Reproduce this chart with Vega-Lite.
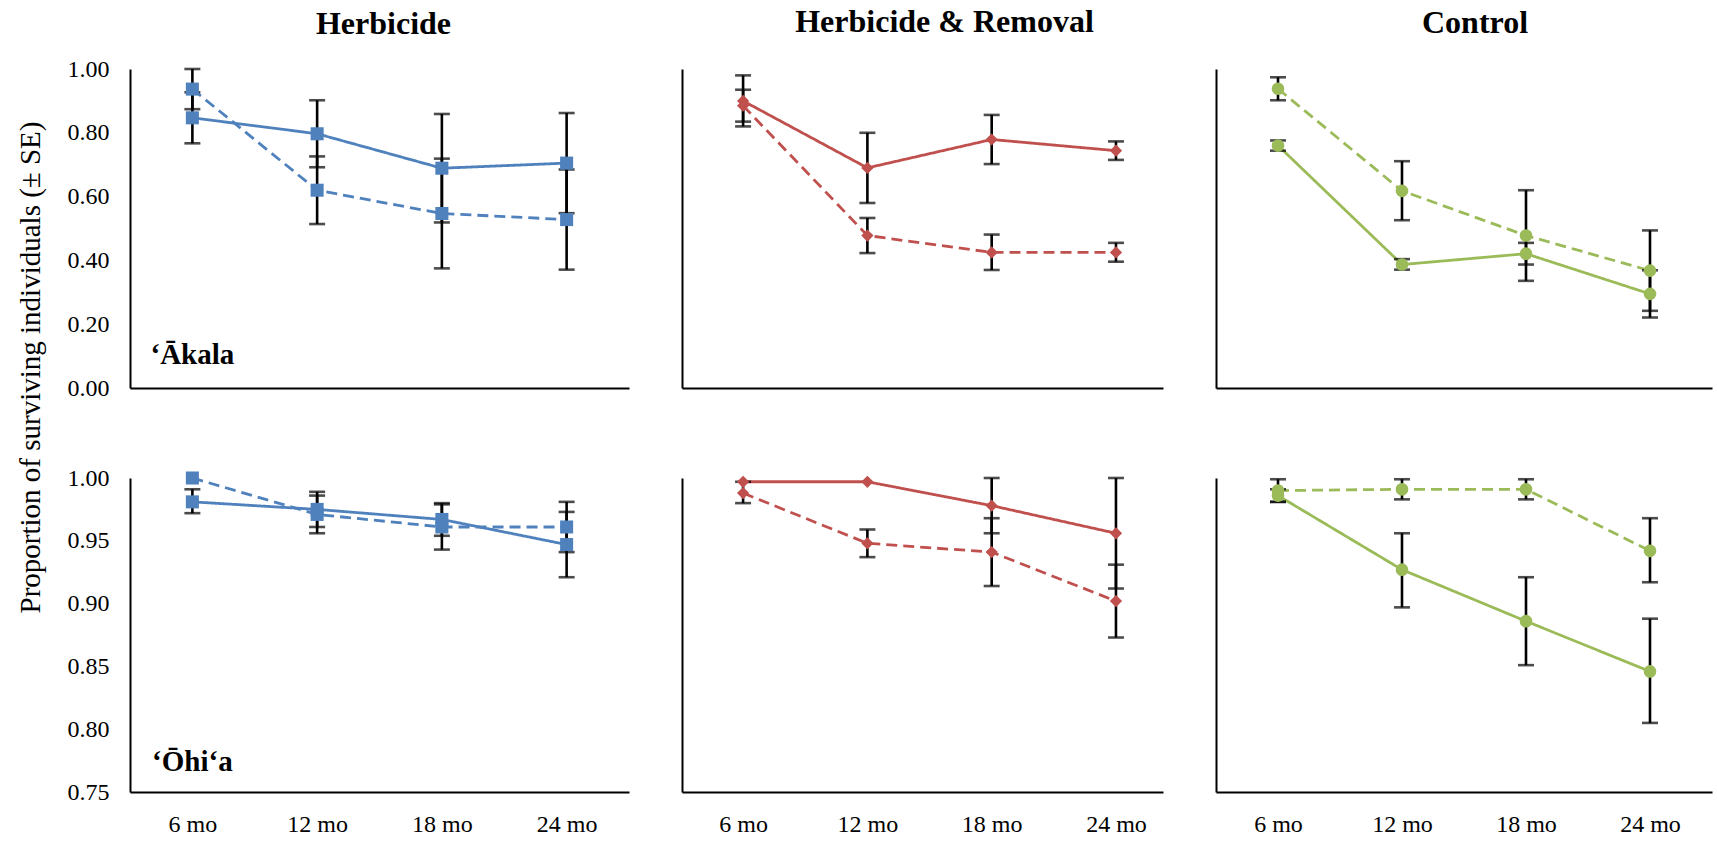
{
  "$schema": "https://vega.github.io/schema/vega-lite/v6.json",
  "background": "white",
  "autosize": {"type": "pad"},
  "padding": {"left": 16, "top": 6, "right": 4, "bottom": 0},
  "config": {
    "font": "Liberation Serif",
    "view": {"stroke": null},
    "axis": {"grid": false, "ticks": false, "domainColor": "black", "domainWidth": 2, "labelFont": "Liberation Serif", "labelFontSize": 24, "labelColor": "black", "labelPadding": 21},
    "axisX": {"labelPadding": 20},
    "title": {"font": "Liberation Serif", "fontSize": 32, "fontWeight": "bold", "color": "black", "anchor": "middle"},
    "line": {"strokeWidth": 2.8},
    "point": {"filled": true, "opacity": 1}
  },
  "data": {"values": [
    {"species": "‘Ākala", "treatment": "Herbicide", "series": "1", "time": "6 mo", "mean": 0.847, "lo": 0.767, "hi": 0.927},
    {"species": "‘Ākala", "treatment": "Herbicide", "series": "1", "time": "12 mo", "mean": 0.797, "lo": 0.692, "hi": 0.902},
    {"species": "‘Ākala", "treatment": "Herbicide", "series": "1", "time": "18 mo", "mean": 0.689, "lo": 0.519, "hi": 0.859},
    {"species": "‘Ākala", "treatment": "Herbicide", "series": "1", "time": "24 mo", "mean": 0.705, "lo": 0.548, "hi": 0.862},
    {"species": "‘Ākala", "treatment": "Herbicide", "series": "2", "time": "6 mo", "mean": 0.937, "lo": 0.874, "hi": 1.0},
    {"species": "‘Ākala", "treatment": "Herbicide", "series": "2", "time": "12 mo", "mean": 0.62, "lo": 0.514, "hi": 0.726},
    {"species": "‘Ākala", "treatment": "Herbicide", "series": "2", "time": "18 mo", "mean": 0.547, "lo": 0.375, "hi": 0.719},
    {"species": "‘Ākala", "treatment": "Herbicide", "series": "2", "time": "24 mo", "mean": 0.528, "lo": 0.371, "hi": 0.685},
    {"species": "‘Ākala", "treatment": "Herbicide & Removal", "series": "1", "time": "6 mo", "mean": 0.9, "lo": 0.82, "hi": 0.98},
    {"species": "‘Ākala", "treatment": "Herbicide & Removal", "series": "1", "time": "12 mo", "mean": 0.69, "lo": 0.58, "hi": 0.8},
    {"species": "‘Ākala", "treatment": "Herbicide & Removal", "series": "1", "time": "18 mo", "mean": 0.779, "lo": 0.702, "hi": 0.856},
    {"species": "‘Ākala", "treatment": "Herbicide & Removal", "series": "1", "time": "24 mo", "mean": 0.744, "lo": 0.715, "hi": 0.773},
    {"species": "‘Ākala", "treatment": "Herbicide & Removal", "series": "2", "time": "6 mo", "mean": 0.885, "lo": 0.835, "hi": 0.935},
    {"species": "‘Ākala", "treatment": "Herbicide & Removal", "series": "2", "time": "12 mo", "mean": 0.478, "lo": 0.423, "hi": 0.533},
    {"species": "‘Ākala", "treatment": "Herbicide & Removal", "series": "2", "time": "18 mo", "mean": 0.425, "lo": 0.37, "hi": 0.481},
    {"species": "‘Ākala", "treatment": "Herbicide & Removal", "series": "2", "time": "24 mo", "mean": 0.425, "lo": 0.396, "hi": 0.455},
    {"species": "‘Ākala", "treatment": "Control", "series": "1", "time": "6 mo", "mean": 0.76, "lo": 0.744, "hi": 0.776},
    {"species": "‘Ākala", "treatment": "Control", "series": "1", "time": "12 mo", "mean": 0.387, "lo": 0.371, "hi": 0.404},
    {"species": "‘Ākala", "treatment": "Control", "series": "1", "time": "18 mo", "mean": 0.421, "lo": 0.387, "hi": 0.455},
    {"species": "‘Ākala", "treatment": "Control", "series": "1", "time": "24 mo", "mean": 0.295, "lo": 0.221, "hi": 0.369},
    {"species": "‘Ākala", "treatment": "Control", "series": "2", "time": "6 mo", "mean": 0.938, "lo": 0.902, "hi": 0.974},
    {"species": "‘Ākala", "treatment": "Control", "series": "2", "time": "12 mo", "mean": 0.618, "lo": 0.526, "hi": 0.711},
    {"species": "‘Ākala", "treatment": "Control", "series": "2", "time": "18 mo", "mean": 0.478, "lo": 0.336, "hi": 0.62},
    {"species": "‘Ākala", "treatment": "Control", "series": "2", "time": "24 mo", "mean": 0.368, "lo": 0.242, "hi": 0.494},
    {"species": "‘Ōhi‘a", "treatment": "Herbicide", "series": "1", "time": "6 mo", "mean": 0.981, "lo": 0.972, "hi": 0.991},
    {"species": "‘Ōhi‘a", "treatment": "Herbicide", "series": "1", "time": "12 mo", "mean": 0.975, "lo": 0.961, "hi": 0.989},
    {"species": "‘Ōhi‘a", "treatment": "Herbicide", "series": "1", "time": "18 mo", "mean": 0.967, "lo": 0.954, "hi": 0.98},
    {"species": "‘Ōhi‘a", "treatment": "Herbicide", "series": "1", "time": "24 mo", "mean": 0.947, "lo": 0.921, "hi": 0.973},
    {"species": "‘Ōhi‘a", "treatment": "Herbicide", "series": "2", "time": "6 mo", "mean": 1.0},
    {"species": "‘Ōhi‘a", "treatment": "Herbicide", "series": "2", "time": "12 mo", "mean": 0.971, "lo": 0.956, "hi": 0.986},
    {"species": "‘Ōhi‘a", "treatment": "Herbicide", "series": "2", "time": "18 mo", "mean": 0.961, "lo": 0.943, "hi": 0.979},
    {"species": "‘Ōhi‘a", "treatment": "Herbicide", "series": "2", "time": "24 mo", "mean": 0.961, "lo": 0.941, "hi": 0.981},
    {"species": "‘Ōhi‘a", "treatment": "Herbicide & Removal", "series": "1", "time": "6 mo", "mean": 0.997},
    {"species": "‘Ōhi‘a", "treatment": "Herbicide & Removal", "series": "1", "time": "12 mo", "mean": 0.997},
    {"species": "‘Ōhi‘a", "treatment": "Herbicide & Removal", "series": "1", "time": "18 mo", "mean": 0.978, "lo": 0.956, "hi": 1.0},
    {"species": "‘Ōhi‘a", "treatment": "Herbicide & Removal", "series": "1", "time": "24 mo", "mean": 0.956, "lo": 0.912, "hi": 1.0},
    {"species": "‘Ōhi‘a", "treatment": "Herbicide & Removal", "series": "2", "time": "6 mo", "mean": 0.988, "lo": 0.98, "hi": 0.997},
    {"species": "‘Ōhi‘a", "treatment": "Herbicide & Removal", "series": "2", "time": "12 mo", "mean": 0.948, "lo": 0.937, "hi": 0.959},
    {"species": "‘Ōhi‘a", "treatment": "Herbicide & Removal", "series": "2", "time": "18 mo", "mean": 0.941, "lo": 0.914, "hi": 0.968},
    {"species": "‘Ōhi‘a", "treatment": "Herbicide & Removal", "series": "2", "time": "24 mo", "mean": 0.902, "lo": 0.873, "hi": 0.931},
    {"species": "‘Ōhi‘a", "treatment": "Control", "series": "1", "time": "6 mo", "mean": 0.986, "lo": 0.981, "hi": 0.991},
    {"species": "‘Ōhi‘a", "treatment": "Control", "series": "1", "time": "12 mo", "mean": 0.927, "lo": 0.897, "hi": 0.956},
    {"species": "‘Ōhi‘a", "treatment": "Control", "series": "1", "time": "18 mo", "mean": 0.886, "lo": 0.851, "hi": 0.921},
    {"species": "‘Ōhi‘a", "treatment": "Control", "series": "1", "time": "24 mo", "mean": 0.846, "lo": 0.805, "hi": 0.888},
    {"species": "‘Ōhi‘a", "treatment": "Control", "series": "2", "time": "6 mo", "mean": 0.99, "lo": 0.981, "hi": 0.999},
    {"species": "‘Ōhi‘a", "treatment": "Control", "series": "2", "time": "12 mo", "mean": 0.991, "lo": 0.983, "hi": 0.999},
    {"species": "‘Ōhi‘a", "treatment": "Control", "series": "2", "time": "18 mo", "mean": 0.991, "lo": 0.983, "hi": 0.999},
    {"species": "‘Ōhi‘a", "treatment": "Control", "series": "2", "time": "24 mo", "mean": 0.942, "lo": 0.917, "hi": 0.968}
  ]},
  "columns": 3,
  "spacing": {"row": 90, "column": 53},
  "bounds": "flush",
  "concat": [
    {
      "width": 499, "height": 319,
      "title": {"text": "Herbicide", "offset": 16, "dx": 4},
      "transform": [{"filter": {"and": [{"field": "species", "equal": "‘Ākala"}, {"field": "treatment", "equal": "Herbicide"}]}}],
      "encoding": {
        "x": {"field": "time", "type": "ordinal", "sort": ["6 mo", "12 mo", "18 mo", "24 mo"], "scale": {"type": "point", "padding": 0.5}, "axis": {"labels": false, "title": null}},
        "y": {"field": "mean", "type": "quantitative", "scale": {"domain": [0, 1], "nice": false, "zero": false},
              "axis": {"values": [0, 0.2, 0.4, 0.6, 0.8, 1], "format": ".2f", "title": "Proportion of surviving individuals (± SE)", "titleX": -100, "titleY": 298, "titleAngle": -90, "titleAlign": "center", "titleBaseline": "middle", "titleFont": "Liberation Serif", "titleFontSize": 29, "titleFontWeight": "normal", "titleColor": "black"}}
      },
      "layer": [
        {"mark": {"type": "line", "color": "#4F81BD"},
         "encoding": {"strokeDash": {"field": "series", "type": "nominal", "scale": {"domain": ["1", "2"], "range": [[1, 0], [11, 6]]}, "legend": null}}},
        {"transform": [{"filter": "isValid(datum.lo)"}],
         "mark": {"type": "errorbar", "color": "black", "thickness": 2.6, "ticks": {"size": 16, "thickness": 2.6, "color": "black"}},
         "encoding": {"y": {"field": "lo", "type": "quantitative", "title": "Proportion of surviving individuals (± SE)"}, "y2": {"field": "hi"}}},
        {"mark": {"type": "point", "shape": "square", "size": 170, "color": "#4F81BD"}},
        {"transform": [{"filter": {"and": [{"field": "time", "equal": "6 mo"}, {"field": "series", "equal": "1"}]}}],
         "mark": {"type": "text", "font": "Liberation Serif", "fontSize": 29, "fontWeight": "bold", "color": "black", "align": "center", "baseline": "middle"},
         "encoding": {"y": {"datum": 0.103, "type": "quantitative"}, "text": {"field": "species"}}}
      ]
    },
    {
      "width": 481, "height": 319,
      "title": {"text": "Herbicide & Removal", "offset": 30, "dx": 22},
      "transform": [{"filter": {"and": [{"field": "species", "equal": "‘Ākala"}, {"field": "treatment", "equal": "Herbicide & Removal"}]}}],
      "encoding": {
        "x": {"field": "time", "type": "ordinal", "sort": ["6 mo", "12 mo", "18 mo", "24 mo"], "scale": {"type": "point", "padding": 0.435, "align": 0.565}, "axis": {"labels": false, "title": null}},
        "y": {"field": "mean", "type": "quantitative", "scale": {"domain": [0, 1], "nice": false, "zero": false}, "axis": {"labels": false, "title": null}}
      },
      "layer": [
        {"mark": {"type": "line", "color": "#C0504D"},
         "encoding": {"strokeDash": {"field": "series", "type": "nominal", "scale": {"domain": ["1", "2"], "range": [[1, 0], [11, 6]]}, "legend": null}}},
        {"transform": [{"filter": "isValid(datum.lo)"}],
         "mark": {"type": "errorbar", "color": "black", "thickness": 2.6, "ticks": {"size": 16, "thickness": 2.6, "color": "black"}},
         "encoding": {"y": {"field": "lo", "type": "quantitative", "axis": {"labels": false, "title": null}}, "y2": {"field": "hi"}}},
        {"mark": {"type": "point", "shape": "diamond", "size": 150, "color": "#C0504D"}}
      ]
    },
    {
      "width": 496, "height": 319,
      "title": {"text": "Control", "offset": 29, "dx": 11},
      "transform": [{"filter": {"and": [{"field": "species", "equal": "‘Ākala"}, {"field": "treatment", "equal": "Control"}]}}],
      "encoding": {
        "x": {"field": "time", "type": "ordinal", "sort": ["6 mo", "12 mo", "18 mo", "24 mo"], "scale": {"type": "point", "padding": 0.5}, "axis": {"labels": false, "title": null}},
        "y": {"field": "mean", "type": "quantitative", "scale": {"domain": [0, 1], "nice": false, "zero": false}, "axis": {"labels": false, "title": null}}
      },
      "layer": [
        {"mark": {"type": "line", "color": "#9BBB59"},
         "encoding": {"strokeDash": {"field": "series", "type": "nominal", "scale": {"domain": ["1", "2"], "range": [[1, 0], [11, 6]]}, "legend": null}}},
        {"transform": [{"filter": "isValid(datum.lo)"}],
         "mark": {"type": "errorbar", "color": "black", "thickness": 2.6, "ticks": {"size": 16, "thickness": 2.6, "color": "black"}},
         "encoding": {"y": {"field": "lo", "type": "quantitative", "axis": {"labels": false, "title": null}}, "y2": {"field": "hi"}}},
        {"mark": {"type": "point", "shape": "circle", "size": 160, "color": "#9BBB59"}}
      ]
    },
    {
      "width": 499, "height": 314,
      "transform": [{"filter": {"and": [{"field": "species", "equal": "‘Ōhi‘a"}, {"field": "treatment", "equal": "Herbicide"}]}}],
      "encoding": {
        "x": {"field": "time", "type": "ordinal", "sort": ["6 mo", "12 mo", "18 mo", "24 mo"], "scale": {"type": "point", "padding": 0.5}, "axis": {"title": null, "labelAngle": 0}},
        "y": {"field": "mean", "type": "quantitative", "scale": {"domain": [0.75, 1], "nice": false, "zero": false},
              "axis": {"values": [0.75, 0.8, 0.85, 0.9, 0.95, 1], "format": ".2f", "title": null}}
      },
      "layer": [
        {"mark": {"type": "line", "color": "#4F81BD"},
         "encoding": {"strokeDash": {"field": "series", "type": "nominal", "scale": {"domain": ["1", "2"], "range": [[1, 0], [11, 6]]}, "legend": null}}},
        {"transform": [{"filter": "isValid(datum.lo)"}],
         "mark": {"type": "errorbar", "color": "black", "thickness": 2.6, "ticks": {"size": 16, "thickness": 2.6, "color": "black"}},
         "encoding": {"y": {"field": "lo", "type": "quantitative", "axis": {"values": [0.75, 0.8, 0.85, 0.9, 0.95, 1], "format": ".2f", "title": null}}, "y2": {"field": "hi"}}},
        {"mark": {"type": "point", "shape": "square", "size": 170, "color": "#4F81BD"}},
        {"transform": [{"filter": {"and": [{"field": "time", "equal": "6 mo"}, {"field": "series", "equal": "1"}]}}],
         "mark": {"type": "text", "font": "Liberation Serif", "fontSize": 29, "fontWeight": "bold", "color": "black", "align": "center", "baseline": "middle"},
         "encoding": {"y": {"datum": 0.774, "type": "quantitative"}, "text": {"field": "species"}}}
      ]
    },
    {
      "width": 481, "height": 314,
      "transform": [{"filter": {"and": [{"field": "species", "equal": "‘Ōhi‘a"}, {"field": "treatment", "equal": "Herbicide & Removal"}]}}],
      "encoding": {
        "x": {"field": "time", "type": "ordinal", "sort": ["6 mo", "12 mo", "18 mo", "24 mo"], "scale": {"type": "point", "padding": 0.435, "align": 0.565}, "axis": {"title": null, "labelAngle": 0}},
        "y": {"field": "mean", "type": "quantitative", "scale": {"domain": [0.75, 1], "nice": false, "zero": false}, "axis": {"labels": false, "title": null}}
      },
      "layer": [
        {"mark": {"type": "line", "color": "#C0504D"},
         "encoding": {"strokeDash": {"field": "series", "type": "nominal", "scale": {"domain": ["1", "2"], "range": [[1, 0], [11, 6]]}, "legend": null}}},
        {"transform": [{"filter": "isValid(datum.lo)"}],
         "mark": {"type": "errorbar", "color": "black", "thickness": 2.6, "ticks": {"size": 16, "thickness": 2.6, "color": "black"}},
         "encoding": {"y": {"field": "lo", "type": "quantitative", "axis": {"labels": false, "title": null}}, "y2": {"field": "hi"}}},
        {"mark": {"type": "point", "shape": "diamond", "size": 150, "color": "#C0504D"}}
      ]
    },
    {
      "width": 496, "height": 314,
      "transform": [{"filter": {"and": [{"field": "species", "equal": "‘Ōhi‘a"}, {"field": "treatment", "equal": "Control"}]}}],
      "encoding": {
        "x": {"field": "time", "type": "ordinal", "sort": ["6 mo", "12 mo", "18 mo", "24 mo"], "scale": {"type": "point", "padding": 0.5}, "axis": {"title": null, "labelAngle": 0}},
        "y": {"field": "mean", "type": "quantitative", "scale": {"domain": [0.75, 1], "nice": false, "zero": false}, "axis": {"labels": false, "title": null}}
      },
      "layer": [
        {"mark": {"type": "line", "color": "#9BBB59"},
         "encoding": {"strokeDash": {"field": "series", "type": "nominal", "scale": {"domain": ["1", "2"], "range": [[1, 0], [11, 6]]}, "legend": null}}},
        {"transform": [{"filter": "isValid(datum.lo)"}],
         "mark": {"type": "errorbar", "color": "black", "thickness": 2.6, "ticks": {"size": 16, "thickness": 2.6, "color": "black"}},
         "encoding": {"y": {"field": "lo", "type": "quantitative", "axis": {"labels": false, "title": null}}, "y2": {"field": "hi"}}},
        {"mark": {"type": "point", "shape": "circle", "size": 160, "color": "#9BBB59"}}
      ]
    }
  ]
}
